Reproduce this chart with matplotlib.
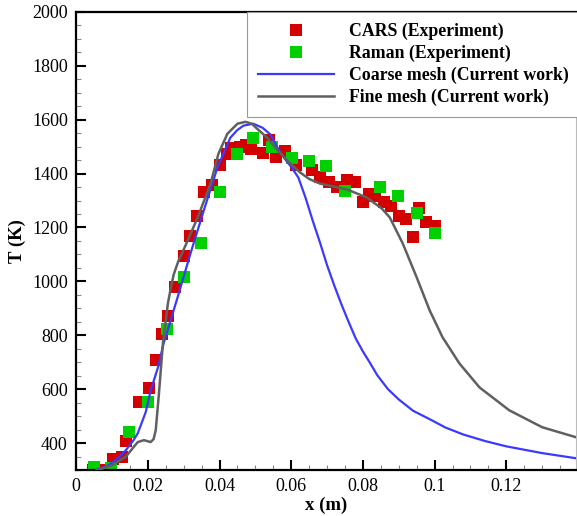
import matplotlib
matplotlib.use("Agg")
import matplotlib.pyplot as plt
from matplotlib.ticker import MultipleLocator, FuncFormatter

# CARS experiment (red squares)
cars_x = [0.0047, 0.0065, 0.0103, 0.0128, 0.0139, 0.0175, 0.0203, 0.0222, 0.0239,
          0.0256, 0.0275, 0.0300, 0.0317, 0.0336, 0.0358, 0.0378, 0.0400, 0.0420,
          0.0433, 0.0456, 0.0475, 0.0489, 0.0520, 0.0539, 0.0558, 0.0583, 0.0614,
          0.0658, 0.0680, 0.0706, 0.0728, 0.0756, 0.0778, 0.0800, 0.0817, 0.0833,
          0.0858, 0.0878, 0.0900, 0.0920, 0.0939, 0.0956, 0.0975, 0.1000]
cars_T = [300, 300, 341, 348, 407, 552, 604, 707, 804,
          870, 978, 1093, 1170, 1244, 1333, 1359, 1433, 1474,
          1496, 1500, 1507, 1493, 1478, 1526, 1463, 1485, 1433,
          1415, 1389, 1370, 1352, 1378, 1370, 1296, 1326, 1315,
          1296, 1281, 1244, 1230, 1163, 1274, 1222, 1204]

# Raman experiment (green squares)
raman_x = [0.005, 0.0097, 0.0147, 0.020, 0.0253, 0.030, 0.0347, 0.040, 0.045,
           0.0494, 0.0547, 0.0603, 0.065, 0.0697, 0.075, 0.0847, 0.0897, 0.095, 0.100]
raman_T = [311, 307, 441, 552, 822, 1018, 1144, 1333, 1474,
           1533, 1500, 1459, 1448, 1430, 1337, 1352, 1315, 1252, 1181]

# Coarse mesh (blue line)
coarse_x = [0.0056, 0.009, 0.012, 0.014, 0.016, 0.0172, 0.0194, 0.0208, 0.0228,
            0.0244, 0.0283, 0.0319, 0.0356, 0.0394, 0.043, 0.0450, 0.0467, 0.0494,
            0.052, 0.0542, 0.056, 0.058, 0.060, 0.062, 0.064, 0.066, 0.068,
            0.070, 0.072, 0.074, 0.076, 0.078, 0.080, 0.082, 0.084, 0.087,
            0.090, 0.094, 0.0986, 0.103, 0.108, 0.114, 0.12, 0.13, 0.1394]
coarse_T = [300, 318, 348, 376, 411, 437, 515, 596, 680,
            770, 941, 1104, 1263, 1422, 1533, 1562, 1578, 1585,
            1570, 1545, 1500, 1458, 1425, 1385, 1310, 1225, 1145,
            1060, 985, 915, 850, 788, 740, 697, 652, 600,
            562, 520, 489, 458, 432, 408, 388, 363, 344]

# Fine mesh (gray line)
fine_x = [0.006, 0.010, 0.0139, 0.016, 0.0172, 0.0189, 0.0208, 0.0216, 0.0222,
          0.0231, 0.0242, 0.0256, 0.0264, 0.0272, 0.0285, 0.030, 0.0339, 0.0375,
          0.0397, 0.0422, 0.045, 0.0472, 0.049, 0.0506, 0.0533, 0.056, 0.0589,
          0.0625, 0.065, 0.068, 0.0756, 0.0811, 0.0853, 0.0875, 0.0911, 0.095,
          0.0986, 0.1022, 0.1069, 0.1125, 0.1208, 0.13, 0.1394]
fine_T = [300, 318, 350, 385, 404, 411, 404, 415, 448,
          585, 770, 919, 975, 1025, 1075, 1118, 1237, 1363,
          1474, 1548, 1585, 1592, 1585, 1565, 1533, 1490, 1448,
          1404, 1380, 1363, 1341, 1311, 1270, 1237, 1141, 1015,
          893, 793, 696, 607, 522, 459, 422]

plt.rcParams["font.family"] = ["Liberation Serif", "DejaVu Serif"]
plt.rcParams["font.size"] = 13

fig = plt.figure(figsize=(5.77, 5.16), dpi=100)
ax = fig.add_axes([0.132, 0.089, 0.866, 0.888])

ax.plot(cars_x, cars_T, "s", color="#d40000", markersize=8.5, markeredgewidth=0,
        label="CARS (Experiment)", zorder=2)
ax.plot(raman_x, raman_T, "s", color="#00d000", markersize=8.5, markeredgewidth=0,
        label="Raman (Experiment)", zorder=2)
ax.plot(coarse_x, coarse_T, "-", color="#3a3aff", lw=1.6,
        label="Coarse mesh (Current work)", zorder=3)
ax.plot(fine_x, fine_T, "-", color="#606060", lw=1.8,
        label="Fine mesh (Current work)", zorder=3)

ax.set_xlim(0, 0.1394)
ax.set_ylim(300, 2000)
ax.xaxis.set_major_locator(MultipleLocator(0.02))
ax.xaxis.set_minor_locator(MultipleLocator(0.005))
ax.yaxis.set_major_locator(MultipleLocator(200))
ax.yaxis.set_minor_locator(MultipleLocator(50))
ax.xaxis.set_major_formatter(FuncFormatter(lambda v, p: "0" if abs(v) < 1e-9 else f"{v:g}"))

ax.tick_params(which="both", direction="in", top=False, right=False)
ax.tick_params(which="major", length=7, width=1.5, labelsize=13, pad=6)
ax.tick_params(which="minor", length=3.5, width=0.8, color="#888888")

for side in ["left", "bottom", "top"]:
    ax.spines[side].set_linewidth(1.6)
ax.spines["right"].set_color("#bbbbbb")
ax.spines["right"].set_linewidth(0.8)

ax.set_xlabel("x (m)", fontsize=13.5, fontweight="bold", labelpad=1)
ax.set_ylabel("T (K)", fontsize=13.5, fontweight="bold", labelpad=4)

leg = ax.legend(loc="upper right", bbox_to_anchor=(1.008, 1.0), frameon=True,
                fancybox=False, edgecolor="#999999", framealpha=1,
                handlelength=4.3, handletextpad=0.85, borderpad=0.6,
                labelspacing=0.27, numpoints=1, borderaxespad=0,
                prop={"weight": "bold", "size": 12.8})
leg.get_frame().set_linewidth(0.8)

fig.savefig("out.png", dpi=100)
